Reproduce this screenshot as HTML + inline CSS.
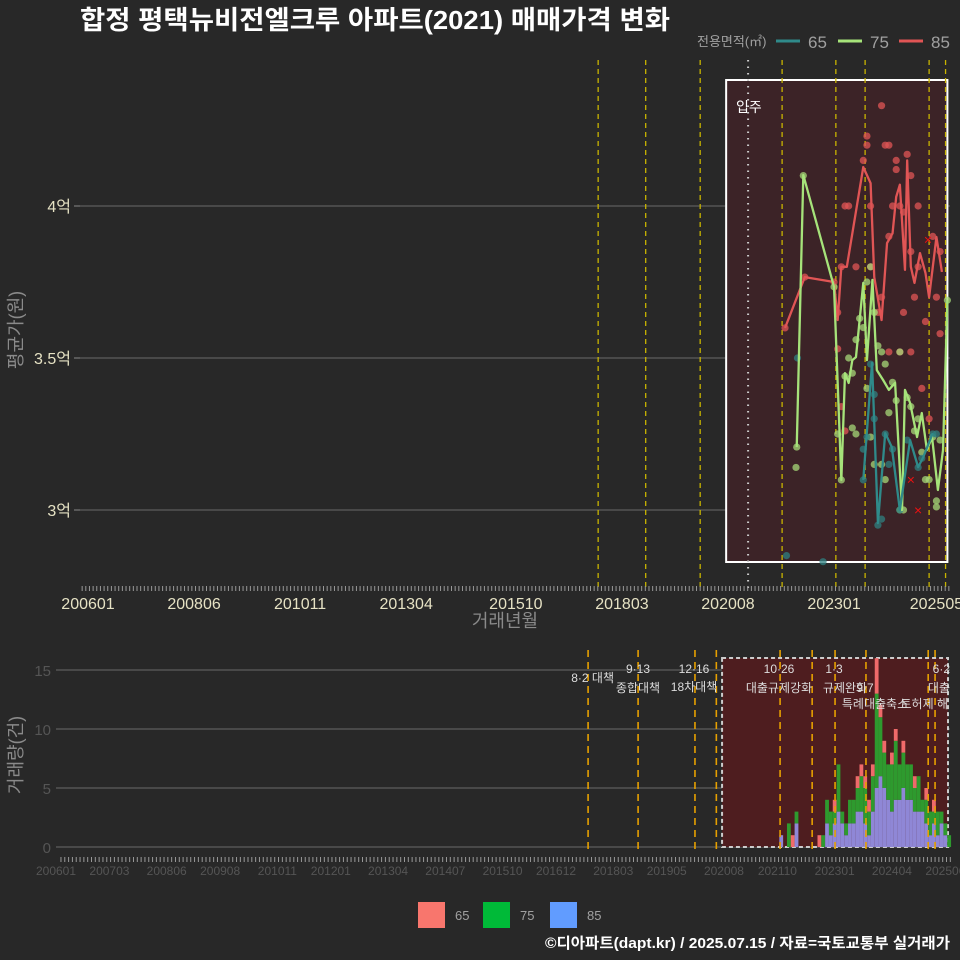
<!DOCTYPE html>
<html><head><meta charset="utf-8"><style>
body{margin:0;background:#282828;}
svg{display:block;font-family:"Liberation Sans","Noto Sans CJK KR",sans-serif;}
</style></head><body>
<svg id="c" width="960" height="960" viewBox="0 0 960 960">
<rect width="960" height="960" fill="#282828"/>
<text x="80" y="29" font-size="26" font-weight="bold" fill="#ffffff" textLength="590" lengthAdjust="spacingAndGlyphs">합정 평택뉴비전엘크루 아파트(2021) 매매가격 변화</text>
<g>
<text x="697" y="46" font-size="13" fill="#a0a0a0">전용면적(㎡)</text>
<line x1="776" y1="41" x2="800" y2="41" stroke="#2f8a8a" stroke-width="3"/>
<text x="808" y="48" font-size="17" fill="#a0a0a0">65</text>
<line x1="838" y1="41" x2="862" y2="41" stroke="#a6e37a" stroke-width="3"/>
<text x="870" y="48" font-size="17" fill="#a0a0a0">75</text>
<line x1="899" y1="41" x2="923" y2="41" stroke="#e05555" stroke-width="3"/>
<text x="931" y="48" font-size="17" fill="#a0a0a0">85</text>
</g>
<g id="top"></g>
<g id="bot"></g>
<text x="505" y="627" font-size="18" text-anchor="middle" fill="#8a8a8a">거래년월</text>
<text transform="translate(22,330) rotate(-90)" font-size="18" text-anchor="middle" fill="#8a8a8a">평균가(원)</text>
<text transform="translate(22,755) rotate(-90)" font-size="18" text-anchor="middle" fill="#8a8a8a">거래량(건)</text>
<g>
<rect x="418" y="902" width="27" height="26" fill="#f8766d"/>
<text x="455" y="920" font-size="13" fill="#a0a0a0">65</text>
<rect x="483" y="902" width="27" height="26" fill="#00ba38"/>
<text x="520" y="920" font-size="13" fill="#a0a0a0">75</text>
<rect x="550" y="902" width="27" height="26" fill="#619cff"/>
<text x="587" y="920" font-size="13" fill="#a0a0a0">85</text>
</g>
<text x="950" y="948" font-size="15" font-weight="bold" text-anchor="end" fill="#ffffff" textLength="405" lengthAdjust="spacingAndGlyphs">©디아파트(dapt.kr) / 2025.07.15 / 자료=국토교통부 실거래가</text>
</svg>
<script>
// month index = months since 2006-01
const topTickLabels=["200601","200806","201011","201304","201510","201803","202008","202301","202505"];
const botTickLabels=["200601","200703","200806","200908","201011","201201","201304","201407","201510","201612","201803","201905","202008","202110","202301","202404","202506"];
const priceTicks=[30000,35000,40000];
const priceTickLabels=["3억","3.5억","4억"];
const volTicks=[0,5,10,15];
const moveInMonth=180.5;
const policyMonthsTop=[139.5,152.5,167.4,189.8,204.5,212.5,230,234.5];
const policyMonthsBot=[139.4,152.5,167.4,173,189.7,198.1,204.1,212.2,228.5,230.3];
const line65M=[212,214.4,216,218,219.8,222,224.8,227,228.4,231];
const line65V=[30990,34840,29570,32530,32070,30000,32300,31410,31740,32530];
const line75M=[193.8,195.6,204,206,207,208,209,210,212,213,214.5,215.7,217.4,219,220.7,222.6,223.4,224.8,226.7,228,229.4,230.8,232.4,233.8,235];
const line75V=[32070,41020,37340,30990,34500,34180,34930,35030,37470,34930,37570,34600,34280,33950,34180,30000,33950,33520,32400,33190,31970,32400,30660,31970,36900];
const line85M=[190.6,196,204,205,206,207.5,212,214,215,217,218.5,220,221,222,223.4,224,225,226,227.5,229,230,232,233.5];
const line85V=[35990,37660,37500,36250,38000,38000,41280,40750,37660,36250,38780,39100,40300,40700,37900,41500,38000,37470,38450,37800,37000,38980,37830];
const dots65M=[191,194,201,212,213,214,215,215,216,217,218,219,220,222,224,227,228,231,232,212];
const dots65V=[28500,35000,28300,30990,32400,34800,33800,33000,29500,29700,32500,31500,32000,30000,32300,31400,31700,32500,32500,32000];
const dots75M=[193.8,193.6,195.6,204,206,205,207,208,209,210,211,212,213,214,213,215,216,217,218,219,220,221,222,222,223,224,225,226,227,228,229,230,231,232,232,233,235,214,210,215,217,209,218];
const dots75V=[32070,31400,41000,37340,30990,32500,34400,35000,34500,35600,36300,36000,37500,38000,34000,36500,35400,35200,34800,33200,34200,33600,35200,30000,30000,33700,33400,32600,33000,31900,31000,31000,32400,30300,30100,32300,36900,32400,32500,31500,31500,32700,31000];
const dots85M=[190.6,196,204,205,205,206,207,208,206,210,212,213,213,214,214,216,217,218,219,219,220,221,221,222,223,223,224,225,225,226,227,227,228,229,230,231,232,233,233,219,222,225,207,217];
const dots85V=[35990,37660,37500,36500,35300,38000,40000,40000,33400,38000,41500,42000,42300,40000,38000,36500,37000,42000,42000,39000,40000,41500,41200,40000,39800,36500,41700,41000,38500,37000,40000,38000,34000,36200,33000,39000,37000,38500,35800,35200,35200,35200,32600,43300];
const crossM=[225,227,229.7];
const crossV=[31000,30000,38900];
const volMonths=[190,192,193,194,200,201,202,203,204,205,206,207,208,209,210,211,212,213,214,215,216,217,218,219,220,221,222,223,224,225,226,227,228,229,230,231,232,233,234];
const vol85=[1,0,0,2,0,0,2,1,2,3,2,1,2,2,3,3,2,1,3,5,6,5,4,3,4,4,5,4,4,3,3,3,2,1,2,1,2,1,0];
const vol75=[0,2,0,1,0,1,2,2,1,4,1,1,2,2,2,3,3,2,3,8,5,3,3,4,5,3,3,3,3,2,3,1,2,2,1,2,1,1,1];
const vol65=[0,0,1,0,1,0,0,0,1,0,0,0,0,0,1,1,1,1,1,3,1,1,0,1,1,0,1,0,0,1,0,0,1,0,1,0,0,0,0];

const NS="http://www.w3.org/2000/svg";
function mk(p,t,a){const e=document.createElementNS(NS,t);for(const k in a)e.setAttribute(k,a[k]);p.appendChild(e);return e;}
const xt=m=>88+3.657*m, yt=v=>510-(v-30000)*0.0304;
const xb=m=>56+3.817*m, yb=v=>847-v*11.8;
const T=document.getElementById('top'),B=document.getElementById('bot');
function ym(s){return (parseInt(s.slice(0,4))-2006)*12+parseInt(s.slice(4))-1;}

priceTicks.forEach((v,i)=>{
 let l=mk(T,'line',{x1:80,x2:950,y1:yt(v),y2:yt(v),stroke:'#6a6a6a','stroke-width':1});
 
 let tk=mk(T,'line',{x1:74,x2:80,y1:yt(v),y2:yt(v),stroke:'#888'});
 
 let t=mk(T,'text',{x:71,y:yt(v)+6,'font-size':16,'text-anchor':'end',fill:'#e6e2c4'});t.textContent=priceTickLabels[i];
 
});
let r=mk(T,'rect',{x:xt(174.5),y:80,width:xt(235)-xt(174.5),height:482,fill:'#3c2327',stroke:'#ffffff','stroke-width':2});

let mi=mk(T,'line',{x1:xt(moveInMonth),x2:xt(moveInMonth),y1:60,y2:588,stroke:'#cccccc','stroke-width':2,'stroke-dasharray':'1.5 5'});

let mt=mk(T,'text',{x:736,y:112,'font-size':14,fill:'#ffffff'});mt.textContent='입주';

policyMonthsTop.forEach(m=>{let l=mk(T,'line',{x1:xt(m),x2:xt(m),y1:60,y2:588,stroke:'#c8b400','stroke-width':1.3,'stroke-dasharray':'5 4'});
 });
for(let m=-1.6;m<=236;m+=1){let l=mk(T,'line',{x1:xt(m),x2:xt(m),y1:586,y2:591,stroke:'#999','stroke-width':1});
 }
topTickLabels.forEach(s=>{let t=mk(T,'text',{x:xt(ym(s)),y:609,'font-size':16,'text-anchor':'middle',fill:'#e6e2c4'});t.textContent=s;
 });
function dots(M,V,c,n){M.forEach((m,i)=>{let d=mk(T,'circle',{cx:xt(m),cy:yt(V[i]),r:3.6,fill:c,'fill-opacity':0.75});
 });}
function line(M,V,c,n){let p=mk(T,'polyline',{points:M.map((m,i)=>xt(m)+','+yt(V[i])).join(' '),fill:'none',stroke:c,'stroke-width':2.3,'stroke-linejoin':'round'});
 }
dots(dots85M,dots85V,'#e05555','point-85');dots(dots75M,dots75V,'#a6d878','point-75');dots(dots65M,dots65V,'#2f8080','point-65');
line(line85M,line85V,'#e05555','line-85');line(line75M,line75V,'#a6e37a','line-75');line(line65M,line65V,'#2f8a8a','line-65');
crossM.forEach((m,i)=>{let t=mk(T,'text',{x:xt(m),y:yt(crossV[i])+5,'font-size':14,'text-anchor':'middle',fill:'#ee1111'});t.textContent='×';
 });

volTicks.forEach(v=>{let l=mk(B,'line',{x1:56,x2:950,y1:yb(v),y2:yb(v),stroke:'#6a6a6a','stroke-width':1});
 
 let t=mk(B,'text',{x:51,y:yb(v)+6,'font-size':15,'text-anchor':'end',fill:'#555'});t.textContent=v;
 });
let rb=mk(B,'rect',{x:xb(174.5),y:658,width:948-xb(174.5),height:189,fill:'#4e1d1f',stroke:'#cccccc','stroke-width':2,'stroke-dasharray':'4 3'});

volMonths.forEach((m,i)=>{const x=xb(m)-1.9;let y0=0;
 [[vol85[i],'#8f87d6','bar-85'],[vol75[i],'#2e9a2e','bar-75'],[vol65[i],'#f06a6a','bar-65']].forEach(([v,c,n])=>{
  if(v>0){let b=mk(B,'rect',{x:x,y:yb(y0+v),width:3.8,height:v*11.8,fill:c});}
  y0+=v;});});
policyMonthsBot.forEach(m=>{let l=mk(B,'line',{x1:xb(m),x2:xb(m),y1:650,y2:850,stroke:'#e6a000','stroke-width':1.6,'stroke-dasharray':'7 5'});
 });
const ann=[[614,682,'end','8·2 대책'],[638,673,'middle','9·13'],[638,692,'middle','종합대책'],[694,673,'middle','12·16'],[694,691,'middle','18차대책'],
[779,673,'middle','10·26'],[779,692,'middle','대출규제강화'],[834,673,'middle','1·3'],[845,692,'middle','규제완화'],[865,692,'middle','9·7'],
[875,708,'middle','특례대출축소'],[948,708,'end','토허제 해'],[950,673,'end','6·2'],[950,692,'end','대출']];
ann.forEach(a=>{let t=mk(B,'text',{x:a[0],y:a[1],'font-size':12,'text-anchor':a[2],fill:'#dddddd'});t.textContent=a[3];
 });
for(let m=1.3;m<=235;m+=1){let l=mk(B,'line',{x1:xb(m),x2:xb(m),y1:857,y2:862,stroke:'#999','stroke-width':1});
 }
botTickLabels.forEach(s=>{let t=mk(B,'text',{x:xb(ym(s)),y:875,'font-size':12,'text-anchor':'middle',fill:'#555'});t.textContent=s;
 });
</script>
</body></html>
